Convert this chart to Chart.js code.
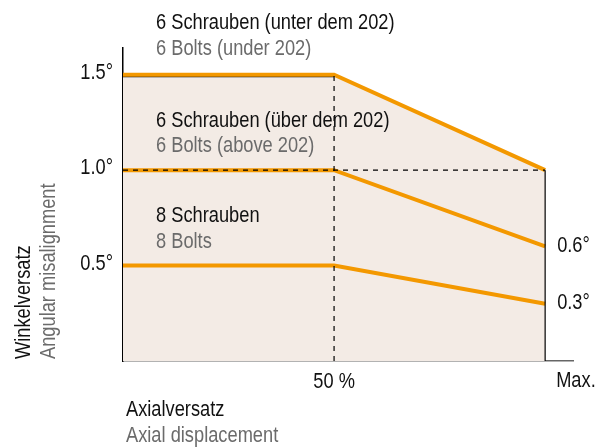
<!DOCTYPE html>
<html>
<head>
<meta charset="utf-8">
<script src="https://cdn.jsdelivr.net/npm/chart.js@4"></script>
<style>
  html, body { margin: 0; padding: 0; background: #fff; }
  #wrap { width: 596px; height: 448px; }
</style>
</head>
<body>
<div id="wrap"><canvas id="chart"></canvas></div>
<script>
/* global Chart */

// axial displacement (%), 100 = Max.
const xSteps = [0, 50, 100]
// angular misalignment in degrees per bolt configuration
const sixUnder = [1.5, 1.5, 1.0]
const sixAbove = [1.0, 1.0, 0.6]
const eightBolts = [0.5, 0.5, 0.3]

const yTicks = [0.5, 1.0, 1.5]
const yTickLabels = ['0.5°', '1.0°', '1.5°']
const endLabels = ['0.6°', '0.3°']
const xTickLabels = ['50 %', 'Max.']

const seriesTitles = [
  ['6 Schrauben (unter dem 202)', '6 Bolts (under 202)'],
  ['6 Schrauben (über dem 202)', '6 Bolts (above 202)'],
  ['8 Schrauben', '8 Bolts']
]

const ORANGE = '#f39800'
const GREY = '#6b6b6b'
const INK = '#111'
const FONT = '22px "Liberation Sans", Arial, sans-serif'
const SQUEEZE = 0.83 // narrow the glyphs to get a condensed look

const pts = ys => xSteps.map((x, i) => ({ x, y: ys[i] }))

// draws condensed text: x is the anchor point, align as usual
function label (ctx, str, x, y, align, color) {
  ctx.save()
  ctx.font = FONT
  ctx.textBaseline = 'middle'
  ctx.textAlign = align
  ctx.fillStyle = color
  ctx.translate(x, y)
  ctx.scale(SQUEEZE, 1)
  ctx.fillText(str, 0, 0)
  ctx.restore()
}

const textPlugin = {
  id: 'texts',
  afterDraw (chart) {
    const { ctx, scales: { x, y } } = chart

    // series captions, placed above each line
    const captionY = [[23, 49], [121, 146], [216, 242]]
    seriesTitles.forEach((pair, i) => {
      label(ctx, pair[0], 156, captionY[i][0], 'left', INK)
      label(ctx, pair[1], 156, captionY[i][1], 'left', GREY)
    })

    // y tick labels
    yTicks.forEach((v, i) => {
      label(ctx, yTickLabels[i], x.left - 10, y.getPixelForValue(v) - 2, 'right', INK)
    })

    // end values at Max.
    const xMax = x.getPixelForValue(100)
    label(ctx, endLabels[0], xMax + 12, y.getPixelForValue(sixAbove[2]) - 1, 'left', INK)
    label(ctx, endLabels[1], xMax + 12, y.getPixelForValue(eightBolts[2]) - 1, 'left', INK)

    // x tick labels
    label(ctx, xTickLabels[0], x.getPixelForValue(50), y.bottom + 21, 'center', INK)
    label(ctx, xTickLabels[1], xMax + 11, y.bottom + 20, 'left', INK)

    // x axis title
    label(ctx, 'Axialversatz', x.left + 3, y.bottom + 49, 'left', INK)
    label(ctx, 'Axial displacement', x.left + 3, y.bottom + 75, 'left', GREY)

    // y axis title, rotated
    ctx.save()
    ctx.translate(0, y.bottom - 2)
    ctx.rotate(-Math.PI / 2)
    label(ctx, 'Winkelversatz', 0, 24, 'left', INK)
    label(ctx, 'Angular misalignment', 0, 49, 'left', GREY)
    ctx.restore()
  }
}

new Chart(document.getElementById('chart'), {
  type: 'line',
  data: {
    datasets: [
      // shaded region under the upper limit
      { data: pts(sixUnder), borderWidth: 0, borderColor: 'transparent', backgroundColor: '#f3ebe5', fill: 'origin', order: 10 },
      // thin black edge along the 1.5° plateau
      { data: [{ x: 0, y: 1.49 }, { x: 50, y: 1.49 }], borderColor: '#000', borderWidth: 1.2, order: 8 },
      { data: pts(sixUnder), borderColor: ORANGE, borderWidth: 4, order: 5 },
      { data: pts(sixAbove), borderColor: ORANGE, borderWidth: 4, order: 5 },
      { data: pts(eightBolts), borderColor: ORANGE, borderWidth: 4, order: 5 },
      // reference lines
      { data: [{ x: 0, y: 1.0 }, { x: 100, y: 1.0 }], borderColor: '#000', borderWidth: 1.2, borderDash: [5, 5], order: 1 },
      { data: [{ x: 50, y: 0 }, { x: 50, y: 1.5 }], borderColor: '#000', borderWidth: 1.2, borderDash: [5, 5], order: 1 },
      { data: [{ x: 100, y: 0 }, { x: 100, y: 1.0 }], borderColor: '#000', borderWidth: 1.2, order: 1 }
    ]
  },
  options: {
    responsive: true,
    maintainAspectRatio: false,
    animation: false,
    events: [],
    layout: { padding: { left: 123, right: 23, top: 48, bottom: 87 } },
    elements: { point: { radius: 0 }, line: { tension: 0, borderCapStyle: 'butt', borderJoinStyle: 'miter' } },
    plugins: { legend: { display: false }, tooltip: { enabled: false } },
    scales: {
      x: {
        type: 'linear', min: 0, max: 106.6,
        grid: { display: false },
        ticks: { display: false },
        border: { display: true, color: '#666', width: 1.5 },
        afterFit: s => { s.height = 0 }
      },
      y: {
        min: 0, max: 1.64,
        grid: { display: false },
        ticks: { display: false },
        border: { display: true, color: '#000', width: 1.5 },
        afterFit: s => { s.width = 0 }
      }
    }
  },
  plugins: [textPlugin]
})
</script>
</body>
</html>
